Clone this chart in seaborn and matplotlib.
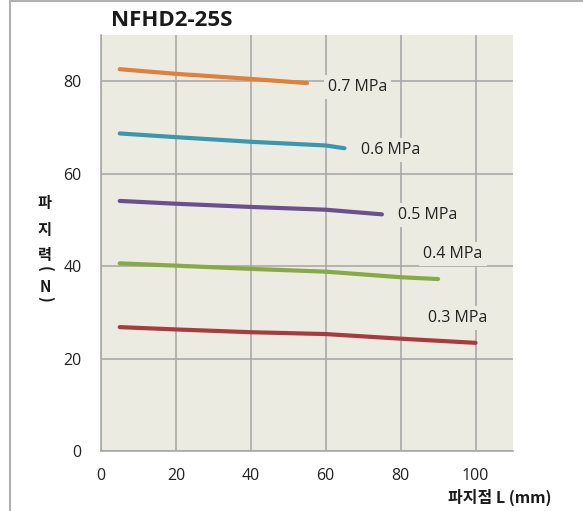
import numpy as np
import pandas as pd
import matplotlib
matplotlib.use("Agg")
import matplotlib.pyplot as plt
import seaborn as sns
from matplotlib.lines import Line2D

# ---- data ----
pressures = ["0.7 MPa", "0.6 MPa", "0.5 MPa", "0.4 MPa", "0.3 MPa"]
x_07 = [5, 20, 40, 55]
y_07 = [82.6, 81.6, 80.5, 79.6]
x_06 = [5, 20, 40, 60, 65]
y_06 = [68.7, 67.9, 66.9, 66.1, 65.5]
x_05 = [5, 20, 40, 60, 75]
y_05 = [54.1, 53.5, 52.8, 52.2, 51.2]
x_04 = [5, 20, 40, 60, 80, 90]
y_04 = [40.6, 40.1, 39.4, 38.8, 37.6, 37.2]
x_03 = [5, 20, 40, 60, 80, 100]
y_03 = [26.8, 26.3, 25.7, 25.3, 24.3, 23.4]
label_x = [60.5, 69.3, 79.2, 86.1, 87.2]
label_y = [78.7, 65.1, 51.0, 42.6, 28.8]
x_ticks = [0, 20, 40, 60, 80, 100]
y_ticks = [0, 20, 40, 60, 80]
title = "NFHD2-25S"
xlabel = "파지점 L (mm)"

colors = ["#E0803A", "#3A97AE", "#6A5091", "#86AA45", "#A83C3D"]

xs = [x_07, x_06, x_05, x_04, x_03]
ys = [y_07, y_06, y_05, y_04, y_03]
frames = []
for p, xx, yy in zip(pressures, xs, ys):
    frames.append(pd.DataFrame({"L": xx, "F": yy, "P": p}))
df = pd.concat(frames, ignore_index=True)

sns.set_theme(style="white")
plt.rcParams["font.family"] = ["Open Sans", "Noto Sans CJK KR", "DejaVu Sans"]

W, H = 583, 511
fig = plt.figure(figsize=(W / 100, H / 100), dpi=100)
fig.patch.set_facecolor("white")
ax = fig.add_axes([101 / W, 1 - 451 / H, (513 - 101) / W, (451 - 35) / H])
ax.set_facecolor("#ECEBE1")

sns.lineplot(data=df, x="L", y="F", hue="P", palette=colors, hue_order=pressures,
             linewidth=3.0, ax=ax, legend=False, sort=True)

ax.set_xlim(0, 110)
ax.set_ylim(0, 90)
ax.set_xticks(x_ticks)
ax.set_yticks(y_ticks)
ax.grid(True, color="#A9A9A9", linewidth=1.2)
ax.set_axisbelow(True)
for s in ["top", "right"]:
    ax.spines[s].set_visible(False)
for s in ["left", "bottom"]:
    ax.spines[s].set_color("#A9A9A9")
    ax.spines[s].set_linewidth(1.2)
ax.tick_params(axis="both", direction="out", length=6, width=1.2, color="#A9A9A9",
               labelsize=11.5, labelcolor="#222222", pad=8)
ax.tick_params(axis="x", pad=6)
ax.set_xlabel("")
ax.set_ylabel("")

for p, lx, ly in zip(pressures, label_x, label_y):
    ax.text(lx, ly, p, ha="left", va="center", fontsize=11.5, color="#222222",
            bbox=dict(boxstyle="square,pad=0.25", facecolor="#ECEBE1", edgecolor="none"),
            zorder=5)

# title
fig.text(172 / W, 1 - 20 / H, title, ha="center", va="center", fontsize=16,
         fontweight="bold", color="#1A1A1A")
# x label
fig.text(500 / W, 1 - 497 / H, xlabel, ha="center", va="center", fontsize=11.5,
         fontweight="bold", color="#1A1A1A",
         family=["Noto Sans CJK KR", "DejaVu Sans"])
# stacked y label
ych = ["파", "지", "력", "(", "N", ")"]
ypos = [203, 230, 255, 269, 287, 299]
rots = [0, 0, 0, -90, 0, -90]
for c, yp, r in zip(ych, ypos, rots):
    fig.text(45 / W, 1 - yp / H, c, ha="center", va="center", fontsize=11,
             fontweight="bold", rotation=r, color="#1A1A1A",
             family=["Noto Sans CJK KR", "DejaVu Sans"])

# figure border lines (left & top)
fig.add_artist(Line2D([9.5 / W, 9.5 / W], [0, 1 - 1.5 / H], transform=fig.transFigure,
                      color="#B0B0B0", linewidth=1.5))
fig.add_artist(Line2D([9.5 / W, 1], [1 - 1.5 / H, 1 - 1.5 / H], transform=fig.transFigure,
                      color="#B0B0B0", linewidth=1.5))

fig.savefig("out.png", dpi=100)
